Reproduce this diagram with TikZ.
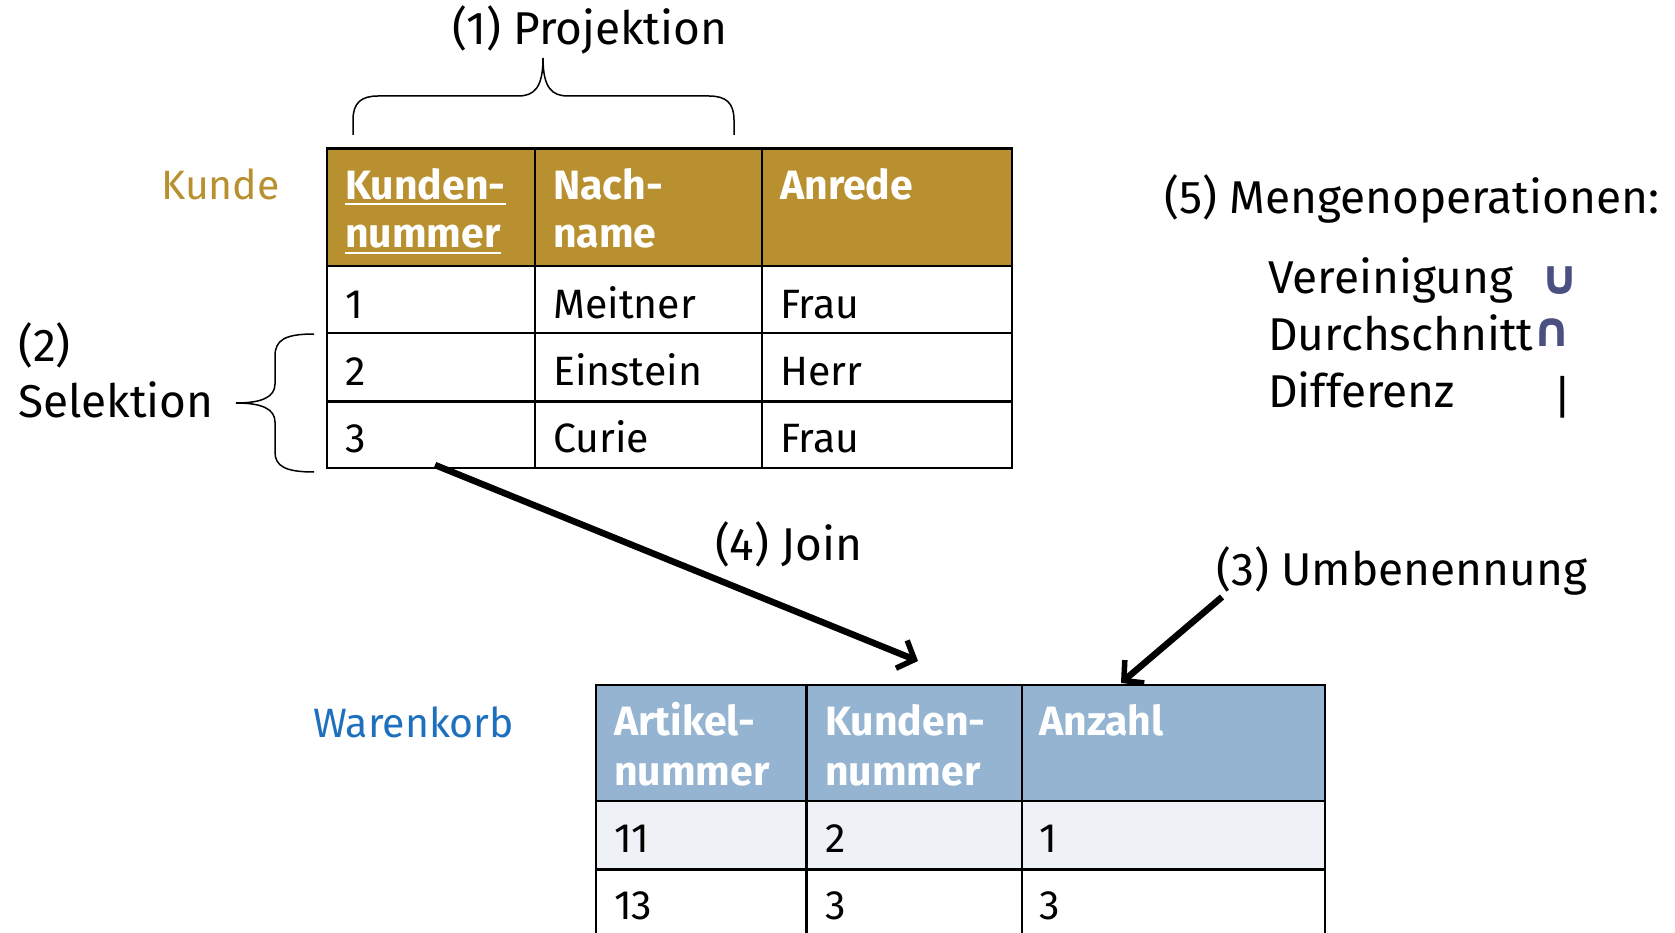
\documentclass[tikz,border=0pt]{standalone}
\usepackage{fontspec}
\setmainfont{Fira Sans}
\newfontfamily\symfont{DejaVu Sans}
\usetikzlibrary{arrows.meta}
\definecolor{gold}{HTML}{B99030}
\definecolor{paleblue}{HTML}{94B4D2}
\definecolor{lightrow}{HTML}{EEF1F6}
\definecolor{wkblue}{HTML}{1E70BE}
\definecolor{symcol}{HTML}{4A5080}
\begin{document}
\begin{tikzpicture}[x=1pt,y=-1pt,
  tab/.style={font=\fontsize{41}{50}\selectfont, anchor=base west, inner sep=0pt},
  hd/.style={tab, font=\fontsize{41}{50}\selectfont\bfseries, text=white},
  ann/.style={font=\fontsize{46}{55}\selectfont, anchor=base west, inner sep=0pt},
  gridline/.style={line width=2.2pt},
  arr/.style={line width=6.5pt, -{Straight Barb[length=14pt,width=30pt,line width=5.5pt]}},
  brc/.style={line width=1.5pt},
  symb/.style={font=\symfont\bfseries\fontsize{48}{48}\selectfont, text=symcol, inner sep=0pt}
]
\useasboundingbox (0,0) rectangle (1675,933);

% ---------- Kunde table ----------
\fill[gold] (327,148.5) rectangle (1012,266);
\draw[gridline] (327,148.5) rectangle (1012,468);
\draw[gridline] (327,266) -- (1012,266);
\draw[gridline] (327,333) -- (1012,333);
\draw[gridline] (327,401.5) -- (1012,401.5);
\draw[gridline] (535,148.5) -- (535,468);
\draw[gridline] (762,148.5) -- (762,468);

\node[hd] (k11) at (345,200) {Kunden-};
\node[hd] (k12) at (345,248) {nummer};
\node[hd] (k21) at (553,200) {Nach-};
\node[hd] (k22) at (553,248) {name};
\node[hd] (k31) at (780,200) {Anrede};
\draw[white, line width=1.3pt] ([yshift=-4pt]k11.base west) -- ([yshift=-4pt]k11.base east);
\draw[white, line width=1.3pt] ([yshift=-5pt]k12.base west) -- ([yshift=-5pt]k12.base east);

\node[tab] (r1a) at (345,318) {1};
\node[tab] (r1b) at (553,318) {Meitner};
\node[tab] (r1c) at (780,318) {Frau};
\node[tab] (r2a) at (345,385) {2};
\node[tab] (r2b) at (553,385) {Einstein};
\node[tab] (r2c) at (780,385) {Herr};
\node[tab] (r3a) at (345,452) {3};
\node[tab] (r3b) at (553,452) {Curie};
\node[tab] (r3c) at (780,452) {Frau};

\node[tab, text=gold] (kunde) at (161,200) {Kunde};

% ---------- Warenkorb table ----------
\fill[paleblue] (596,685) rectangle (1325,801);
\fill[lightrow] (596,801) rectangle (1325,869.5);
\draw[gridline] (596,935) -- (596,685) -- (1325,685) -- (1325,935);
\draw[gridline] (596,801) -- (1325,801);
\draw[gridline] (596,869.5) -- (1325,869.5);
\draw[gridline] (806.5,685) -- (806.5,935);
\draw[gridline] (1022,685) -- (1022,935);

\node[hd] (w11) at (614,735) {Artikel-};
\node[hd] (w12) at (614,785) {nummer};
\node[hd] (w21) at (825,735) {Kunden-};
\node[hd] (w22) at (825,785) {nummer};
\node[hd] (w31) at (1039,735) {Anzahl};
\node[tab] (s1a) at (614,852) {11};
\node[tab] (s1b) at (825,852) {2};
\node[tab] (s1c) at (1039,852) {1};
\node[tab] (s2a) at (614,919) {13};
\node[tab] (s2b) at (825,919) {3};
\node[tab] (s2c) at (1039,919) {3};

\node[tab, text=wkblue] (warenkorb) at (313,737) {Warenkorb};

% ---------- annotations ----------
\node[ann] (proj) at (452,45) {(1) Projektion};
\draw[brc] (353,135) -- (353,120) .. controls (353,103) and (361,96) .. (378,96)
  -- (518,96) .. controls (534,96) and (543,88) .. (543,58)
  .. controls (543,88) and (552,96) .. (568,96)
  -- (709,96) .. controls (726,96) and (734,103) .. (734,120) -- (734,135);

\node[ann] (sel1) at (18,361) {(2)};
\node[ann] (sel2) at (18,417) {Selektion};
\draw[brc] (314,334) .. controls (285,334) and (275,340) .. (275,356)
  -- (275,384) .. controls (275,397) and (262,403) .. (236,403)
  .. controls (262,403) and (275,409) .. (275,422)
  -- (275,452) .. controls (275,466) and (285,472) .. (314,472);

\node[ann] (join) at (715,560) {(4) Join};
\coordinate (js) at (435,465);
\coordinate (je) at (918,661);
\draw[arr] (js) -- (je);

\node[ann] (umb) at (1216,585) {(3) Umbenennung};
\coordinate (us) at (1222,597);
\coordinate (ue) at (1121,683);
\draw[arr] (us) -- (ue);

\node[ann] (menge) at (1164,214) {(5) Mengenoperationen:};
\node[ann] (ver) at (1268,294) {Vereinigung};
\node[ann] (dur) at (1268,350) {Durchschnitt};
\node[ann] (dif) at (1268,407) {Differenz};
\node[symb] (cup) at (1560,281) {∪};
\node[symb] (cap) at (1552,333) {∩};
\node[font=\fontsize{46}{46}\selectfont, inner sep=0pt] (bar) at (1563,397) {|};
\end{tikzpicture}
\end{document}
